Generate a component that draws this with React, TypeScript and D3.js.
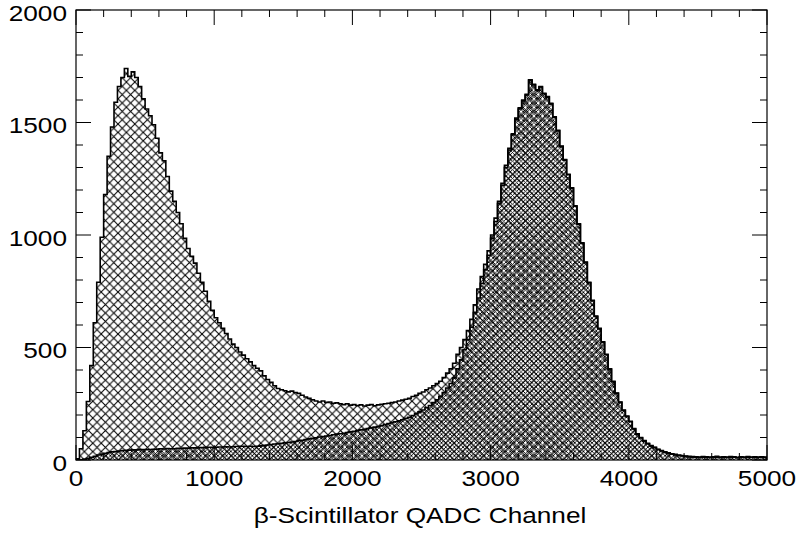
import React from "react";
import * as d3 from "d3";

// Histogram binning: 200 bins of 25 channels from 0 to 5000
const binWidth = 25;
// Total spectrum
const seriesA = [
  5, 50, 130, 260, 420, 610, 790, 990, 1180, 1350,
  1480, 1590, 1660, 1700, 1740, 1705, 1725, 1700, 1660, 1605,
  1560, 1530, 1490, 1430, 1365, 1330, 1260, 1195, 1150, 1100,
  1050, 985, 940, 905, 875, 830, 790, 750, 705, 665,
  632, 610, 585, 562, 538, 515, 500, 480, 466, 450,
  436, 420, 408, 396, 374, 358, 345, 330, 318, 312,
  308, 303, 306, 300, 296, 288, 280, 274, 268, 262,
  258, 262, 256, 258, 252, 254, 250, 246, 250, 244,
  246, 242, 245, 240, 244, 246, 241, 245, 248, 250,
  252, 255, 258, 262, 266, 270, 274, 282, 288, 296,
  302, 312, 320, 330, 340, 350, 366, 386, 405, 430,
  470, 500, 535, 575, 625, 690, 760, 815, 870, 930,
  1000, 1075, 1150, 1230, 1310, 1385, 1450, 1520, 1565, 1600,
  1625, 1690, 1670, 1645, 1660, 1630, 1615, 1585, 1525, 1465,
  1395, 1335, 1270, 1210, 1130, 1050, 965, 880, 790, 710,
  640, 585, 525, 470, 405, 350, 298, 258, 222, 195,
  172, 140, 116, 100, 86, 74, 64, 57, 48, 42,
  36, 32, 28, 25, 22, 20, 18, 16, 15, 14,
  13, 15, 14, 13, 14, 16, 13, 14, 13, 15,
  14, 12, 14, 13, 15, 13, 14, 13, 14, 13,
];
// Second spectrum (dense hatch)
const seriesB = [
  0, 1, 4, 8, 12, 17, 22, 26, 30, 33,
  36, 38, 40, 42, 43, 44, 45, 45, 46, 46,
  47, 47, 48, 48, 50, 49, 51, 50, 50, 52,
  51, 53, 53, 54, 54, 55, 55, 56, 57, 56,
  57, 58, 58, 59, 58, 59, 60, 61, 61, 60,
  61, 60, 61, 63, 65, 67, 69, 71, 72, 74,
  76, 78, 80, 82, 86, 88, 91, 94, 96, 99,
  102, 104, 107, 109, 112, 115, 117, 119, 122, 125,
  128, 131, 134, 136, 140, 143, 146, 149, 153, 158,
  162, 166, 170, 174, 179, 185, 190, 198, 206, 214,
  222, 232, 242, 255, 268, 283, 300, 320, 340, 365,
  405, 445, 490, 535, 590, 655, 720, 785, 845, 910,
  985, 1060, 1140, 1220, 1300, 1378, 1445, 1515, 1560, 1596,
  1622, 1688, 1668, 1643, 1658, 1628, 1613, 1583, 1523, 1463,
  1393, 1333, 1268, 1208, 1128, 1048, 963, 878, 788, 708,
  638, 583, 523, 468, 403, 348, 296, 256, 220, 193,
  170, 138, 114, 98, 84, 72, 62, 55, 46, 40,
  34, 30, 26, 23, 20, 18, 16, 14, 13, 12,
  11, 13, 12, 11, 12, 13, 11, 12, 11, 13,
  12, 10, 12, 11, 13, 11, 12, 11, 12, 11,
];
const xTickLabels = ["0", "1000", "2000", "3000", "4000", "5000"];
const yTickLabels = ["0", "500", "1000", "1500", "2000"];
const xTitle = "β-Scintillator QADC Channel";

const W = 799;
const H = 533;
const L = 76, R = 767, T = 10, B = 460;
const FONT = "'Liberation Sans', Arial, Helvetica, sans-serif";
const FS = 21.5;
const SX = 1.22;

function stepPath(vals: number[], x: d3.ScaleLinear<number, number>, y: d3.ScaleLinear<number, number>) {
  const p = d3.path();
  p.moveTo(x(0), y(0));
  vals.forEach((v, i) => {
    p.lineTo(x(i * binWidth), y(v));
    p.lineTo(x((i + 1) * binWidth), y(v));
  });
  p.lineTo(x(vals.length * binWidth), y(0));
  return p.toString();
}

export default function App() {
  const x = d3.scaleLinear().domain([0, 5000]).range([L, R]);
  const y = d3.scaleLinear().domain([0, 2000]).range([B, T]);
  const xMajor = xTickLabels.map(Number);
  const xMinor = d3.range(0, 5001, 200).filter((v) => v % 1000 !== 0);
  const yMajor = yTickLabels.map(Number);
  const yMinor = d3.range(0, 2001, 100).filter((v) => v % 500 !== 0);
  const pA = stepPath(seriesA, x, y);
  const pB = stepPath(seriesB, x, y);
  const sA = 8.4;
  const sB = 4.3;
  return (
    <svg width={W} height={H} style={{ position: "absolute", left: 0, top: 0, background: "#fff" }}>
      <defs>
        <pattern id="hatchA" patternUnits="userSpaceOnUse" width={sA} height={sA} x={L} y={B}>
          <path d={`M0,0L${sA},${sA}M${sA},0L0,${sA}`} stroke="#000" strokeWidth={1.05} />
        </pattern>
        <pattern id="hatchB" patternUnits="userSpaceOnUse" width={sB} height={sB} x={L} y={B}>
          <path d={`M0,0L${sB},${sB}M${sB},0L0,${sB}`} stroke="#000" strokeWidth={0.85} />
        </pattern>
        <clipPath id="frame">
          <rect x={L} y={T} width={R - L} height={B - T} />
        </clipPath>
      </defs>
      <rect x={0} y={0} width={W} height={H} fill="#fff" />
      <g clipPath="url(#frame)">
        <path d={pA} fill="url(#hatchA)" stroke="none" />
        <path d={pB} fill="url(#hatchB)" stroke="none" />
        <path d={pA} fill="none" stroke="#000" strokeWidth={1.6} />
        <path d={pB} fill="none" stroke="#000" strokeWidth={1.6} />
      </g>
      <rect x={L} y={T} width={R - L} height={B - T} fill="none" stroke="#000" strokeWidth={1.2} />
      {xMajor.map((v) => (
        <g key={"xM" + v}>
          <line x1={x(v)} x2={x(v)} y1={B} y2={B - 15} stroke="#000" strokeWidth={1} />
          <line x1={x(v)} x2={x(v)} y1={T} y2={T + 15} stroke="#000" strokeWidth={1} />
        </g>
      ))}
      {xMinor.map((v) => (
        <g key={"xm" + v}>
          <line x1={x(v)} x2={x(v)} y1={B} y2={B - 7} stroke="#000" strokeWidth={1} />
          <line x1={x(v)} x2={x(v)} y1={T} y2={T + 7} stroke="#000" strokeWidth={1} />
        </g>
      ))}
      {yMajor.map((v) => (
        <g key={"yM" + v}>
          <line x1={L} x2={L + 15} y1={y(v)} y2={y(v)} stroke="#000" strokeWidth={1} />
          <line x1={R} x2={R - 15} y1={y(v)} y2={y(v)} stroke="#000" strokeWidth={1} />
        </g>
      ))}
      {yMinor.map((v) => (
        <g key={"ym" + v}>
          <line x1={L} x2={L + 7} y1={y(v)} y2={y(v)} stroke="#000" strokeWidth={1} />
          <line x1={R} x2={R - 7} y1={y(v)} y2={y(v)} stroke="#000" strokeWidth={1} />
        </g>
      ))}
      {xTickLabels.map((t, i) => (
        <text key={"xl" + i} transform={`translate(${x(xMajor[i])},${486}) scale(${SX},1)`}
          textAnchor="middle" fontFamily={FONT} fontSize={FS} fill="#000">{t}</text>
      ))}
      {yTickLabels.map((t, i) => (
        <text key={"yl" + i} transform={`translate(${67},${y(yMajor[i]) + 10.5}) scale(${SX},1)`}
          textAnchor="end" fontFamily={FONT} fontSize={FS} fill="#000">{t}</text>
      ))}
      <text transform={`translate(${420},${523}) scale(${SX},1)`} textAnchor="middle"
        fontFamily={FONT} fontSize={FS} fill="#000">{xTitle}</text>
    </svg>
  );
}
